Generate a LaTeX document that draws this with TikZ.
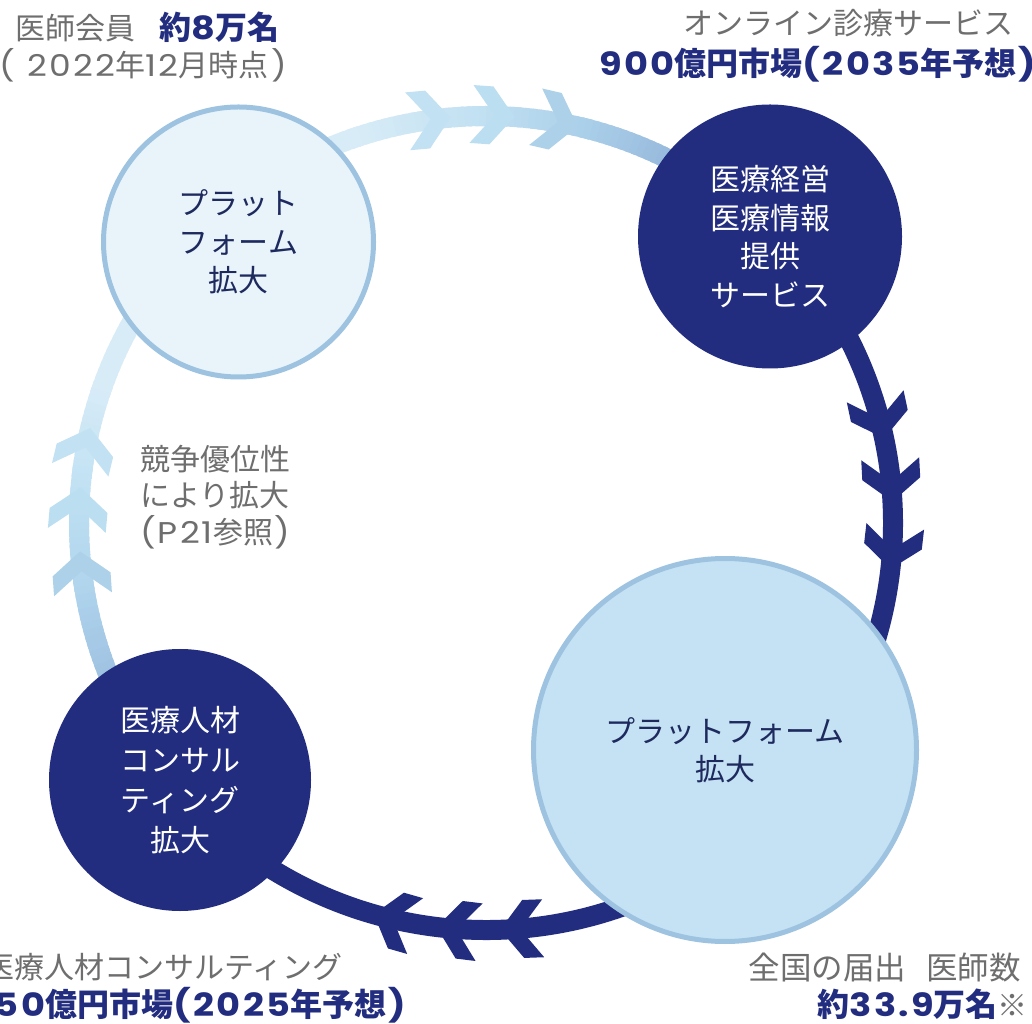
\documentclass[tikz,border=0pt]{standalone}
\usepackage{fontspec}
\setmainfont{Noto Sans CJK JP}
\newfontfamily\nf{Poppins}[FakeStretch=1.15, LetterSpace=7]
\definecolor{navy}{HTML}{222D80}
\definecolor{txtgray}{HTML}{6E6E6E}
\definecolor{cdark}{HTML}{1E2A5E}
\definecolor{cborder}{HTML}{9EC3E1}
\definecolor{tlfill}{HTML}{E8F4FA}
\definecolor{brfill}{HTML}{C4E2F3}
\definecolor{c40}{HTML}{7899C8}
\definecolor{c60}{HTML}{93B5DA}
\definecolor{c75}{HTML}{AACFE9}
\definecolor{c90}{HTML}{C1E0F2}
\definecolor{c108}{HTML}{D8ECF7}
\definecolor{c160}{HTML}{D8ECF7}
\definecolor{c172}{HTML}{C4E3F4}
\definecolor{c188}{HTML}{B0D5ED}
\definecolor{c205}{HTML}{9ABDDF}
\definecolor{c222}{HTML}{87A8D1}
\definecolor{ch1}{HTML}{C2E1F2}
\definecolor{ch2}{HTML}{BCDEF1}
\definecolor{ch3}{HTML}{AED1EA}
\tikzset{
  ring/.style={line width=20pt},
  lightc/.style={circle, draw=cborder, line width=5pt, inner sep=0pt, align=center, text=cdark,
                 font=\fontsize{30}{38.5}\selectfont},
  darkc/.style={circle, fill=navy, inner sep=0pt, align=center, text=white,
                 font=\fontsize{30}{38.5}\selectfont},
  lbl/.style={inner sep=0pt, text=txtgray, font=\fontsize{30}{36}\selectfont},
  hi/.style={inner sep=0pt, text=navy, font=\fontsize{32}{36}\selectfont\bfseries},
}
\newcommand\garc[4]{%
  \foreach \a in {#1,...,#2}{%
    \pgfmathtruncatemacro\p{100*(\a-#1)/(#2-#1)}%
    \draw[ring, draw=#4!\p!#3] ([shift={(\a:407)}]O) arc[start angle=\a, end angle=\a+1.6, radius=407];
  }}
\newcommand\chev[2]{%
  \begin{scope}[shift={(O)}, rotate=#1]
    \fill[#2] (407,0) -- (436,23) -- (436,43) -- (407,20) -- (378,43) -- (378,23) -- cycle;
  \end{scope}}
\begin{document}
\begin{tikzpicture}[x=1pt,y=1pt]
\useasboundingbox (0,0) rectangle (1032,1023);
\fill[white] (0,0) rectangle (1032,1023);
\coordinate (O) at (486,500);
% light ring with gradient
\garc{40}{60}{c40}{c60}
\garc{60}{75}{c60}{c75}
\garc{75}{90}{c75}{c90}
\garc{90}{108}{c90}{c108}
\garc{108}{160}{c108}{c160}
\garc{160}{172}{c160}{c172}
\garc{172}{188}{c172}{c188}
\garc{188}{205}{c188}{c205}
\garc{205}{222}{c205}{c222}
% dark ring
\draw[ring, draw=navy] ([shift={(218:407)}]O) arc[start angle=218, end angle=402, radius=407];
% chevrons
\chev{95}{ch1}\chev{86}{ch2}\chev{77}{ch3}
\chev{166.5}{ch1}\chev{175}{ch2}\chev{184}{ch3}
\chev{12}{navy}\chev{3}{navy}\chev{-6.5}{navy}
\chev{254}{navy}\chev{263}{navy}\chev{272}{navy}
% circles
\node[lightc, fill=tlfill, minimum size=270pt] (tl) at (238.5,781) {プラット\\フォーム\\拡大};
\node[darkc, minimum size=264pt] (tr) at (770,786.5) {医療経営\\医療情報\\提供\\サービス};
\node[lightc, fill=brfill, minimum size=383pt] (br) at (725,273) {プラットフォーム\\拡大};
\node[darkc, minimum size=262pt, font=\fontsize{30}{40}\selectfont] (bl) at (180,243) {医療人材\\コンサル\\ティング\\拡大};
% middle label
\node[lbl, align=center, font=\fontsize{30}{36.5}\selectfont] (mid) at (215,526) {競争優位性\\により拡大\\{\nf(\hspace{2pt}P21}参照\hspace{1pt}{\nf)}};
% outer labels
\node[lbl, anchor=base west] (tl1) at (15,983) {医師会員\hspace{24pt}{\bfseries\fontsize{32}{36}\selectfont\color{navy}約{\nf 8}万名}};
\node[lbl, anchor=base west] (tl2) at (-1,946.5) {{\nf(}\hspace{13pt}{\nf 2022}年{\nf 12}月時点\hspace{3pt}{\nf)}};
\node[lbl, anchor=base east] (tr1) at (1014,988) {オンライン診療サービス};
\node[hi, anchor=base west] (tr2) at (599,947) {{\nf 900}億円市場{\nf(}\hspace{3pt}{\nf 2035}年予想\hspace{2pt}{\nf)}};
\node[lbl, anchor=base east] (bl1) at (343,45) {医療人材コンサルティング};
\node[hi, anchor=base east] (bl2) at (406,7) {{\nf 750}億円市場{\nf(}\hspace{3pt}{\nf 2025}年予想\hspace{2pt}{\nf)}};
\node[lbl, anchor=base east, font=\fontsize{31.5}{36}\selectfont] (br1) at (1021,44) {全国の届出\hspace{20pt}医師数};
\node[lbl, anchor=base east] (br2) at (1028,7) {{\bfseries\fontsize{32}{36}\selectfont\color{navy}約{\nf 33.9}万名}※};
\end{tikzpicture}
\end{document}
